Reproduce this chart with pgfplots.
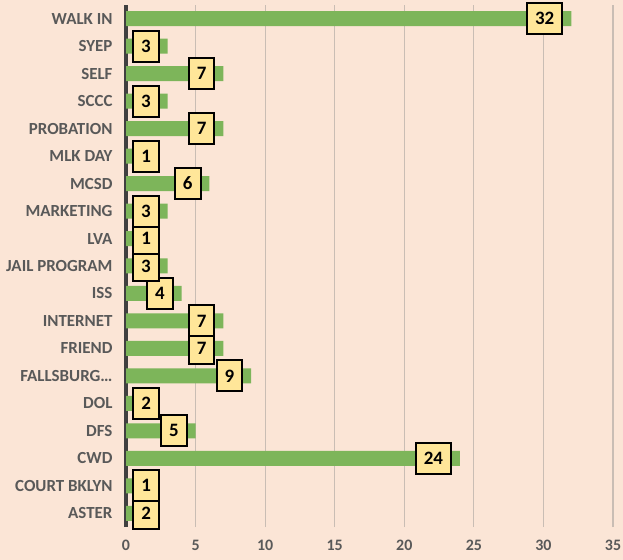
\documentclass[border=0pt]{standalone}
\usepackage{fontspec}
\setmainfont{Carlito}
\usepackage{pgfplots}
\usepackage{pgfplotstable}
\pgfplotsset{compat=1.18}
\definecolor{bgc}{HTML}{FBE5D6}
\definecolor{barc}{HTML}{7DB55A}
\definecolor{boxc}{HTML}{FFE699}
\definecolor{gridc}{HTML}{C9BDB4}
\definecolor{axisc}{HTML}{404040}
\definecolor{tickc}{HTML}{595959}
\pgfplotstableread{
y v lx
0 2 2.44
1 1 2.44
2 24 23.43
3 5 4.43
4 2 2.44
5 9 8.43
6 7 6.43
7 7 6.43
8 4 3.43
9 3 2.43
10 1 2.44
11 3 2.43
12 6 5.43
13 1 2.44
14 7 6.43
15 3 2.43
16 7 6.43
17 3 2.43
18 32 31.43
}\datatab
\begin{document}
\begin{tikzpicture}
\path[use as bounding box] (0,0) rectangle (623bp,560bp);
\fill[bgc] (0,0) rectangle (623bp,560bp);
\begin{axis}[
  at={(126bp,33bp)}, anchor=south west,
  scale only axis, width=487bp, height=522bp,
  xmin=0, xmax=35, ymin=-0.5, ymax=18.5,
  xtick={0,5,...,35},
  ytick={0,...,18},
  yticklabels={ASTER,COURT BKLYN,CWD,DFS,DOL,FALLSBURG…,FRIEND,INTERNET,ISS,JAIL PROGRAM,LVA,MARKETING,MCSD,MLK DAY,PROBATION,SCCC,SELF,SYEP,WALK IN},
  xmajorgrids, grid style={color=gridc, line width=1.2bp},
  axis lines=left,
  axis line style={-},
  x axis line style={draw=none},
  y axis line style={draw=axisc, line width=3bp},
  major tick length=0pt,
  /pgf/number format/assume math mode=true,
  yticklabel style={font=\bfseries\fontsize{17}{20}\selectfont, text=tickc, xshift=-10bp},
  xticklabel style={font=\bfseries\fontsize{16}{19}\selectfont, text=tickc, yshift=-10bp},
  clip=false,
]
\addplot[xbar, bar width=15bp, fill=barc, draw=none] table[x=v, y=y] {\datatab};
\addplot[draw=none, nodes near coords, point meta=explicit symbolic,
  every node near coord/.append style={anchor=east, draw=black, line width=2bp, fill=boxc,
    text=black, font=\bfseries\fontsize{19}{22}\selectfont, inner xsep=8bp, inner ysep=0pt,
    minimum height=31bp}]
  table[x=lx, y=y, meta=v] {\datatab};
\end{axis}
\end{tikzpicture}
\end{document}
